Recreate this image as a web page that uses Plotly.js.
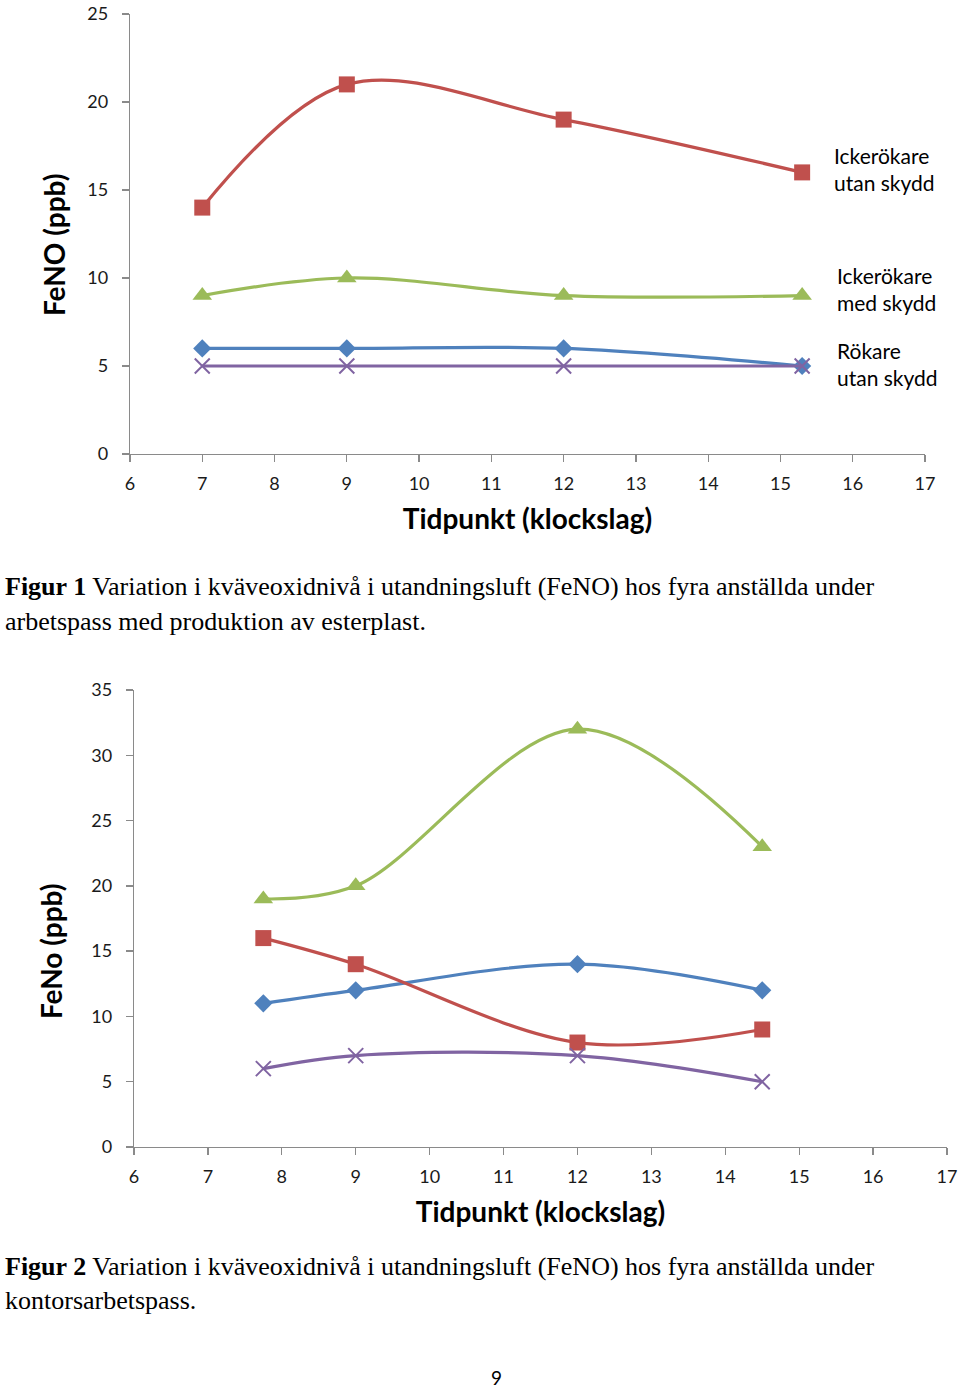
<!DOCTYPE html>
<html>
<head>
<meta charset="utf-8">
<script src="https://cdn.plot.ly/plotly-3.0.1.min.js"></script>
<style>
html, body { margin: 0; padding: 0; background: #ffffff; }
#chart { width: 960px; height: 1390px; }
</style>
</head>
<body>
<div id="chart"></div>
<script>
// ---------- data ----------
const fig1X = [7, 9, 12, 15.3];
const fig1Blue = [6, 6, 6, 5];
const fig1Red = [14, 21, 19, 16];
const fig1Green = [9, 10, 9, 9];
const fig1Purple = [5, 5, 5, 5];

const fig2X = [7.75, 9, 12, 14.5];
const fig2Blue = [11, 12, 14, 12];
const fig2Red = [16, 14, 8, 9];
const fig2Green = [19, 20, 32, 23];
const fig2Purple = [6, 7, 7, 5];

const xTickVals = [6, 7, 8, 9, 10, 11, 12, 13, 14, 15, 16, 17];
const fig1YTicks = [0, 5, 10, 15, 20, 25];
const fig2YTicks = [0, 5, 10, 15, 20, 25, 30, 35];

const seriesLabels1 = ['Ickerökare<br>utan skydd', 'Ickerökare<br>med skydd', 'Rökare<br>utan skydd'];
const xTitle = 'Tidpunkt (klockslag)';
const yTitle1 = 'FeNO (ppb)';
const yTitle2 = 'FeNo (ppb)';
const caption1 = ['<b>Figur 1</b> Variation i kväveoxidnivå i utandningsluft (FeNO) hos fyra anställda under',
                  'arbetspass med produktion av esterplast.'];
const caption2 = ['<b>Figur 2</b> Variation i kväveoxidnivå i utandningsluft (FeNO) hos fyra anställda under',
                  'kontorsarbetspass.'];
const pageNumber = '9';

// ---------- styling ----------
const W = 960, H = 1390;
const px = v => v / W;
const py = v => 1 - v / H;
const COLORS = { blue: '#4F81BD', red: '#C0504D', green: '#9BBB59', purple: '#8064A2' };
const CHART_FONT = 'Lato, "Open Sans", sans-serif';
const SERIF = '"Liberation Serif", "Times New Roman", serif';

function series(x, y, color, symbol, size, xa, ya) {
  const isX = symbol === 'x-thin';
  return {
    type: 'scatter', mode: 'lines+markers', x: x, y: y,
    xaxis: xa, yaxis: ya,
    line: { color: color, width: 3.2, shape: 'spline', smoothing: 1 },
    marker: { symbol: symbol, size: size, color: color,
              line: { color: color, width: isX ? 2 : 0 } },
    showlegend: false, hoverinfo: 'x+y'
  };
}

const traces = [
  series(fig1X, fig1Blue, COLORS.blue, 'diamond', 14, 'x', 'y'),
  series(fig1X, fig1Red, COLORS.red, 'square', 16, 'x', 'y'),
  series(fig1X, fig1Green, COLORS.green, 'triangle-up', 17, 'x', 'y'),
  series(fig1X, fig1Purple, COLORS.purple, 'x-thin', 15, 'x', 'y'),
  series(fig2X, fig2Blue, COLORS.blue, 'diamond', 14, 'x2', 'y2'),
  series(fig2X, fig2Red, COLORS.red, 'square', 16, 'x2', 'y2'),
  series(fig2X, fig2Green, COLORS.green, 'triangle-up', 17, 'x2', 'y2'),
  series(fig2X, fig2Purple, COLORS.purple, 'x-thin', 15, 'x2', 'y2')
];

function xAxis(domain, anchor) {
  return {
    domain: domain, anchor: anchor, range: [6, 17], tickvals: xTickVals,
    showline: true, linecolor: '#8a8a8a', linewidth: 1.3,
    ticks: 'outside', ticklen: 7, tickcolor: '#8a8a8a', tickwidth: 1.3,
    showgrid: false, zeroline: false, fixedrange: true,
    ticklabelstandoff: 6, ticklabeloverflow: 'allow',
    tickfont: { family: CHART_FONT, size: 18, color: '#1a1a1a' },
    title: { text: '<b>' + xTitle + '</b>', standoff: 16,
             font: { family: CHART_FONT, size: 28, color: '#000' } },
    automargin: false
  };
}
function yAxis(domain, anchor, range, ticks) {
  return {
    domain: domain, anchor: anchor, range: range, tickvals: ticks,
    showline: true, linecolor: '#8a8a8a', linewidth: 1.3,
    ticks: 'outside', ticklen: 7, tickcolor: '#8a8a8a', tickwidth: 1.3,
    showgrid: false, zeroline: false, fixedrange: true,
    ticklabelstandoff: 10, ticklabeloverflow: 'allow',
    tickfont: { family: CHART_FONT, size: 18, color: '#1a1a1a' },
    automargin: false
  };
}

const labelFont = { family: CHART_FONT, size: 21, color: '#000' };
const annotations = [
  { xref: 'x', yref: 'y', x: 15.71, y: 16.2, text: seriesLabels1[0], xanchor: 'left', yanchor: 'middle', align: 'left', showarrow: false, font: labelFont },
  { xref: 'x', yref: 'y', x: 15.755, y: 9.4, text: seriesLabels1[1], xanchor: 'left', yanchor: 'middle', align: 'left', showarrow: false, font: labelFont },
  { xref: 'x', yref: 'y', x: 15.755, y: 5.09, text: seriesLabels1[2], xanchor: 'left', yanchor: 'middle', align: 'left', showarrow: false, font: labelFont },
  { xref: 'paper', yref: 'paper', x: px(54), y: py(245), text: '<b>' + yTitle1 + '</b>', textangle: -90, showarrow: false,
    xanchor: 'center', yanchor: 'middle', font: { family: CHART_FONT, size: 28, color: '#000' } },
  { xref: 'paper', yref: 'paper', x: px(51), y: py(952), text: '<b>' + yTitle2 + '</b>', textangle: -90, showarrow: false,
    xanchor: 'center', yanchor: 'middle', font: { family: CHART_FONT, size: 28, color: '#000' } }
];
const capFont = { family: SERIF, size: 26, color: '#000' };
[[caption1, 587], [caption2, 1266]].forEach(([lines, top]) => {
  lines.forEach((t, i) => {
    annotations.push({ xref: 'paper', yref: 'paper', x: px(3), y: py(top + i * 34), text: t,
      xanchor: 'left', yanchor: 'middle', align: 'left', showarrow: false, font: capFont });
  });
});
annotations.push({ xref: 'paper', yref: 'paper', x: px(496), y: py(1390), text: pageNumber, showarrow: false,
  xanchor: 'center', yanchor: 'bottom', borderpad: 0, font: { family: CHART_FONT, size: 19, color: '#000' } });

const layout = {
  width: W, height: H,
  margin: { l: 0, r: 0, t: 0, b: 0 },
  paper_bgcolor: '#ffffff', plot_bgcolor: '#ffffff',
  xaxis: xAxis([px(130), px(925)], 'y'),
  yaxis: yAxis([py(454), py(14)], 'x', [0, 25], fig1YTicks),
  xaxis2: xAxis([px(134), px(947)], 'y2'),
  yaxis2: yAxis([py(1147), py(690)], 'x2', [0, 35], fig2YTicks),
  annotations: annotations,
  showlegend: false
};

Plotly.newPlot('chart', traces, layout, { displayModeBar: false, staticPlot: true });
</script>
</body>
</html>
